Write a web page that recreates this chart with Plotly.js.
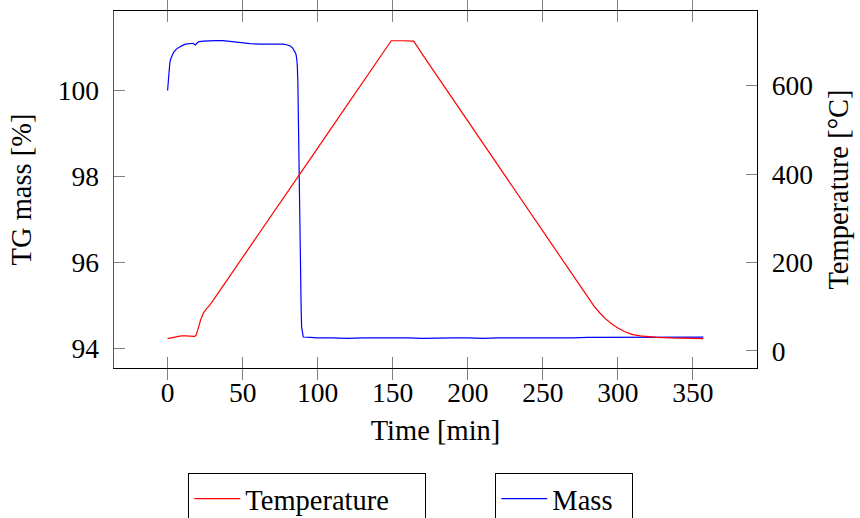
<!DOCTYPE html>
<html>
<head>
<meta charset="utf-8">
<script src="https://cdn.plot.ly/plotly-3.0.1.min.js"></script>
<style>html,body{margin:0;padding:0;background:#fff;}#chart{width:860px;height:518px;}</style>
</head>
<body>
<div id="chart"></div>
<script>
// Temperature programme (time in min, temperature in °C)
const tempTime = [0, 3, 6, 9, 12, 15, 18, 19, 20, 21, 22, 23, 24, 26, 28, 30, 40, 50, 60, 70, 80, 90, 100, 110, 120, 130, 140, 149, 156, 164, 170, 180, 190, 200, 210, 220, 230, 240, 250, 260, 270, 276, 280, 284, 288, 292, 296, 300, 305, 310, 315, 320, 326, 335, 345, 357];
const tempValue = [28, 30, 32, 34, 34, 33.5, 33, 36, 45, 58, 70, 80, 87, 96, 103, 113, 162, 212, 261, 311, 360, 410, 459, 509, 558, 608, 657, 702, 702, 701, 670, 620, 570, 520, 470, 420, 370, 320, 270, 220, 170, 140, 121, 102, 86, 72, 61, 52, 43, 37, 34, 32, 31, 29.5, 28.5, 28];

// TG mass (time in min, mass in %)
const massTime = [0, 0.5, 1, 1.5, 2, 3, 4, 6, 8, 10, 12, 14, 16, 17, 18, 18.5, 19.5, 21, 24, 28, 32, 37, 42, 48, 55, 62, 68, 73, 77, 80, 82, 83.5, 84.5, 85.5, 86, 86.4, 86.8, 87.1, 87.5, 87.8, 88.2, 88.6, 89, 89.3, 89.8, 90.4, 95, 100, 110, 120, 130, 140, 150, 160, 170, 180, 190, 200, 210, 220, 230, 240, 250, 260, 270, 280, 290, 300, 310, 320, 330, 340, 350, 357];
const massValue = [100.0, 100.3, 100.5, 100.64, 100.73, 100.83, 100.89, 100.97, 101.02, 101.05, 101.08, 101.09, 101.10, 101.10, 101.07, 101.06, 101.10, 101.14, 101.15, 101.16, 101.16, 101.16, 101.14, 101.11, 101.09, 101.08, 101.08, 101.09, 101.08, 101.06, 101.03, 100.98, 100.93, 100.85, 100.75, 100.60, 100.20, 99.30, 98.50, 97.80, 96.80, 95.50, 94.90, 94.50, 94.33, 94.27, 94.26, 94.25, 94.25, 94.24, 94.25, 94.25, 94.26, 94.25, 94.24, 94.25, 94.25, 94.25, 94.24, 94.25, 94.25, 94.24, 94.24, 94.25, 94.25, 94.26, 94.26, 94.26, 94.26, 94.26, 94.26, 94.26, 94.26, 94.27];

const xTicks = [0, 50, 100, 150, 200, 250, 300, 350];
const massTicks = [94, 96, 98, 100];
const tempTicks = [0, 200, 400, 600];

const FONT = 'Liberation Serif';

const traces = [
  {x: tempTime, y: tempValue, name: 'Temperature', type: 'scatter', mode: 'lines',
   yaxis: 'y2', legend: 'legend', line: {color: '#ff0000', width: 1.2}},
  {x: massTime, y: massValue, name: 'Mass', type: 'scatter', mode: 'lines',
   yaxis: 'y', legend: 'legend2', line: {color: '#0000ff', width: 1.2}}
];

const layout = {
  width: 860, height: 518,
  margin: {l: 114, r: 103.3, t: 11.3, b: 150.3, autoexpand: false},
  paper_bgcolor: '#fff', plot_bgcolor: '#fff',
  font: {family: FONT, size: 27.5, color: '#000'},
  showlegend: true,
  xaxis: {
    range: [-35.7, 392.7], tickvals: xTicks, ticktext: xTicks.map(String),
    ticks: 'inside', ticklen: 11, tickwidth: 1, tickcolor: '#808080',
    showline: true, linecolor: '#000', linewidth: 1.3, mirror: 'allticks',
    showgrid: false, zeroline: false, automargin: false,
    tickfont: {family: FONT, size: 27.5},
    title: {text: 'Time [min]', font: {family: FONT, size: 28.5}, standoff: 12}
  },
  yaxis: {
    range: [93.55, 101.85], tickvals: massTicks, ticktext: massTicks.map(String),
    ticks: 'inside', ticklen: 11, tickwidth: 1, tickcolor: '#808080',
    showline: true, linecolor: '#555', linewidth: 1.5, automargin: false,
    showgrid: false, zeroline: false, ticklabelstandoff: 8,
    tickfont: {family: FONT, size: 27.5},
    title: {text: 'TG mass [%]', font: {family: FONT, size: 28.5}, standoff: 18}
  },
  yaxis2: {
    overlaying: 'y', side: 'right',
    range: [-38.5, 769.3], tickvals: tempTicks, ticktext: tempTicks.map(String),
    ticks: 'inside', ticklen: 11, tickwidth: 1, tickcolor: '#808080',
    showline: true, linecolor: '#000', linewidth: 1.3, automargin: false,
    showgrid: false, zeroline: false, ticklabelstandoff: 8,
    tickfont: {family: FONT, size: 27.5},
    title: {text: 'Temperature [°C]', font: {family: FONT, size: 28.5}, standoff: 16}
  },
  legend: {
    x: 0.1156, y: -0.293, xanchor: 'left', yanchor: 'top',
    orientation: 'h', entrywidth: 175, entrywidthmode: 'pixels',
    bordercolor: '#000', borderwidth: 1, bgcolor: '#fff',
    font: {family: FONT, size: 28.5}, itemwidth: 46
  },
  legend2: {
    x: 0.593, y: -0.293, xanchor: 'left', yanchor: 'top',
    orientation: 'h', entrywidth: 75, entrywidthmode: 'pixels',
    bordercolor: '#000', borderwidth: 1, bgcolor: '#fff',
    font: {family: FONT, size: 28.5}, itemwidth: 46
  }
};

Plotly.newPlot('chart', traces, layout, {displayModeBar: false, staticPlot: true});
</script>
</body>
</html>
